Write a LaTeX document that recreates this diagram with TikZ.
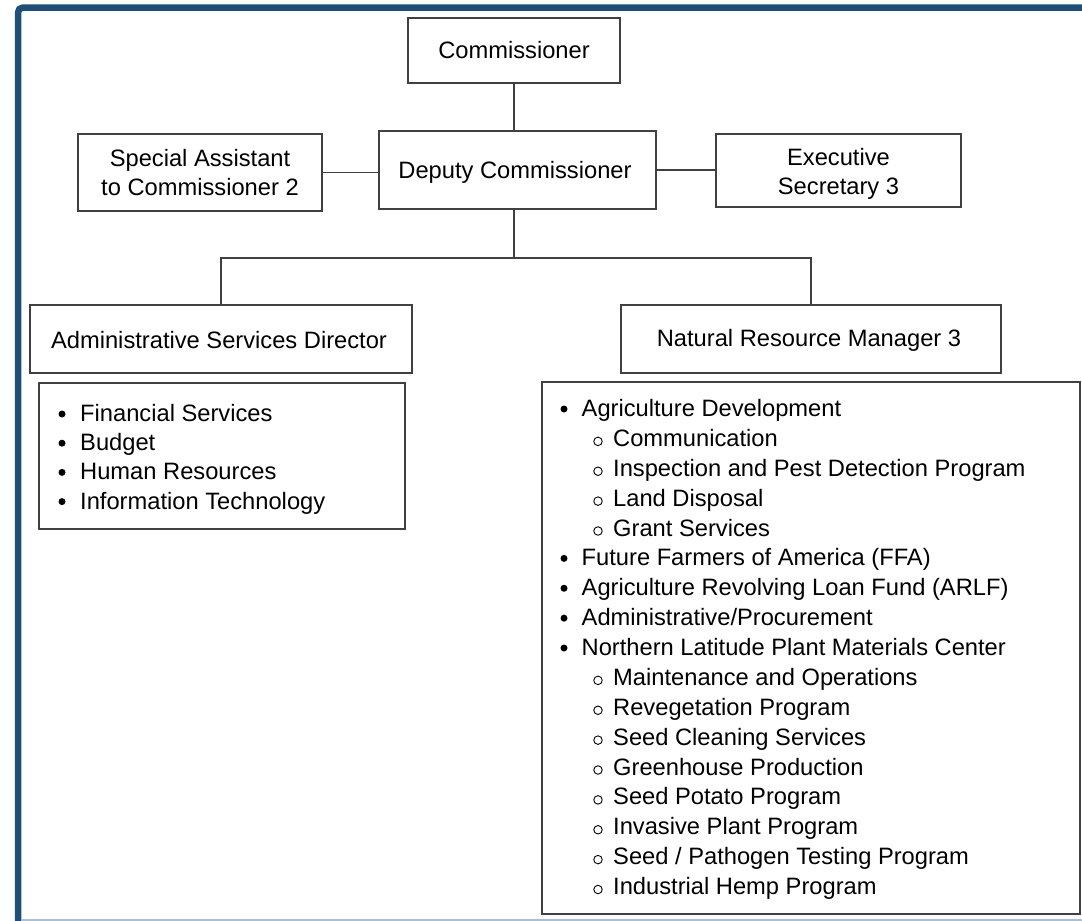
\documentclass[tikz,border=0pt]{standalone}
\usepackage{fontspec}
\setmainfont{Liberation Sans}
\definecolor{frameblue}{RGB}{31,78,121}
\definecolor{framelight}{RGB}{170,190,212}
\definecolor{boxgray}{RGB}{64,64,64}
\begin{document}
\begin{tikzpicture}[x=1pt,y=-1pt,
  box/.style={draw=boxgray,line width=1.5pt,rectangle,inner sep=0pt,align=center,
    font=\fontsize{23.7}{29}\selectfont},
  boxtxt/.style={inner sep=0pt,align=center,font=\fontsize{23.7}{29}\selectfont},
  conn/.style={draw=boxgray,line width=1.5pt},
  itemtxt/.style={anchor=base west,inner sep=0pt,font=\fontsize{23.7}{29}\selectfont},
  bul/.style={circle,fill=black,inner sep=0pt,minimum size=7pt},
  subbul/.style={circle,draw=black,line width=0.9pt,inner sep=0pt,minimum size=8.5pt}]
\useasboundingbox (0,0) rectangle (1082,921);
\fill[white] (0,0) rectangle (1082,921);
% frame
\draw[frameblue,line width=6.5pt,rounded corners=5pt] (18,930) -- (18,7.5) -- (1095,7.5);
\draw[framelight,line width=1.5pt] (21,920) -- (1082,920);
% boxes
\node[box,minimum width=212,minimum height=65] (comm) at (514,50.5) {Commissioner};
\node[box,minimum width=277,minimum height=78] (dep) at (517.5,170) {};
\node[boxtxt] (deptxt) at (515,172) {Deputy Commissioner};
\node[box,minimum width=244,minimum height=77] (sa) at (200,172.5) {Special Assistant\\to Commissioner 2};
\node[box,minimum width=245,minimum height=73] (ex) at (838.5,170.5) {};
\node[boxtxt] (extxt) at (838.5,173.5) {Executive\\Secretary 3};
\node[box,minimum width=382,minimum height=68] (adm) at (221,339) {};
\node[boxtxt] (admtxt) at (219,340.5) {Administrative Services Director};
\node[box,minimum width=380,minimum height=68] (nrm) at (811,339) {};
\node[boxtxt] (nrmtxt) at (809,340.5) {Natural Resource Manager 3};
\node[box,minimum width=366,minimum height=146] (admlist) at (222,456) {};
\node[box,minimum width=538,minimum height=532] (nrmlist) at (811,648) {};
% connectors
\coordinate (jn) at (514,258);
\draw[conn] (comm.south) -- (comm.south |- dep.north);
\draw[conn] (sa.east) -- (dep.west |- sa.east);
\draw[conn] (dep.east) -- (ex.west |- dep.east);
\draw[conn] (comm.south |- dep.south) -- (jn);
\draw[conn] (jn) -| (adm.north);
\draw[conn] (jn) -| (nrm.north);
% admin list
\foreach \t [count=\i] in {Financial Services,Budget,Human Resources,Information Technology}{
  \pgfmathsetmacro{\yy}{413+(\i-1)*29.2+8.5}
  \node[bul] (ab\i) at (62,\yy-7.5) {};
  \node[itemtxt] (at\i) at (80,\yy) {\t};
}
% nrm list
\foreach \lev/\t [count=\i] in {
  1/Agriculture Development,
  2/Communication,
  2/Inspection and Pest Detection Program,
  2/Land Disposal,
  2/Grant Services,
  1/Future Farmers of America (FFA),
  1/Agriculture Revolving Loan Fund (ARLF),
  1/Administrative{/}Procurement,
  1/Northern Latitude Plant Materials Center,
  2/Maintenance and Operations,
  2/Revegetation Program,
  2/Seed Cleaning Services,
  2/Greenhouse Production,
  2/Seed Potato Program,
  2/Invasive Plant Program,
  2/Seed {/} Pathogen Testing Program,
  2/Industrial Hemp Program}{
  \pgfmathsetmacro{\yy}{408+(\i-1)*29.875+8.5}
  \ifnum\lev=1
    \node[bul] (nb\i) at (564,\yy-7.5) {};
    \node[itemtxt] (nt\i) at (581.5,\yy) {\t};
  \else
    \node[subbul] (nb\i) at (598,\yy-5) {};
    \node[itemtxt] (nt\i) at (613,\yy) {\t};
  \fi
}
\end{tikzpicture}
\end{document}
